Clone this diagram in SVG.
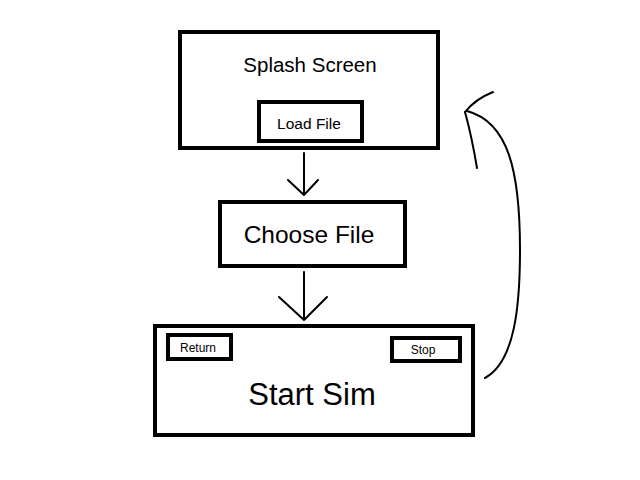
<svg xmlns="http://www.w3.org/2000/svg" width="640" height="480" viewBox="0 0 640 480">
<style>
.box{fill:#fff;stroke:#000;stroke-width:4}
.t{font-family:"Liberation Sans",Arial,sans-serif;fill:#000;text-anchor:middle}
.c{fill:none;stroke:#000;stroke-width:2;stroke-linecap:round;stroke-linejoin:round}
</style>
<rect width="640" height="480" fill="#fff"/>
<g id="splash">
<rect class="box" x="180" y="32" width="258" height="116"/>
<text class="t" x="310" y="72" font-size="20.5">Splash Screen</text>
</g>
<g id="loadfile">
<rect class="box" x="259" y="102" width="103" height="39"/>
<text class="t" x="309" y="129" font-size="15.5">Load File</text>
</g>
<g id="choose">
<rect class="box" x="220" y="202" width="185" height="64"/>
<text class="t" x="309" y="243" font-size="24.5">Choose File</text>
</g>
<g id="startsim">
<rect class="box" x="155" y="326" width="318" height="109"/>
<text class="t" x="312" y="405" font-size="31">Start Sim</text>
</g>
<g id="return">
<rect class="box" x="168" y="335" width="63" height="24"/>
<text class="t" x="198" y="352" font-size="12">Return</text>
</g>
<g id="stop">
<rect class="box" x="392" y="338" width="68" height="23"/>
<text class="t" x="423" y="354" font-size="12">Stop</text>
</g>
<g id="connectors">
<path class="c" d="M304,153 V195 M288,180 L304,195 L318,180"/>
<path class="c" d="M304,272 V320 M279,297 L304,320 L327,297"/>
<path class="c" d="M485,378 C515,362 520,305 520,250 C520,170 508,122 467,111"/>
<path class="c" d="M465,112 C473,102 483,96 493,92"/>
<path class="c" d="M465,112 C470,130 474,150 477,168"/>
</g>
</svg>
